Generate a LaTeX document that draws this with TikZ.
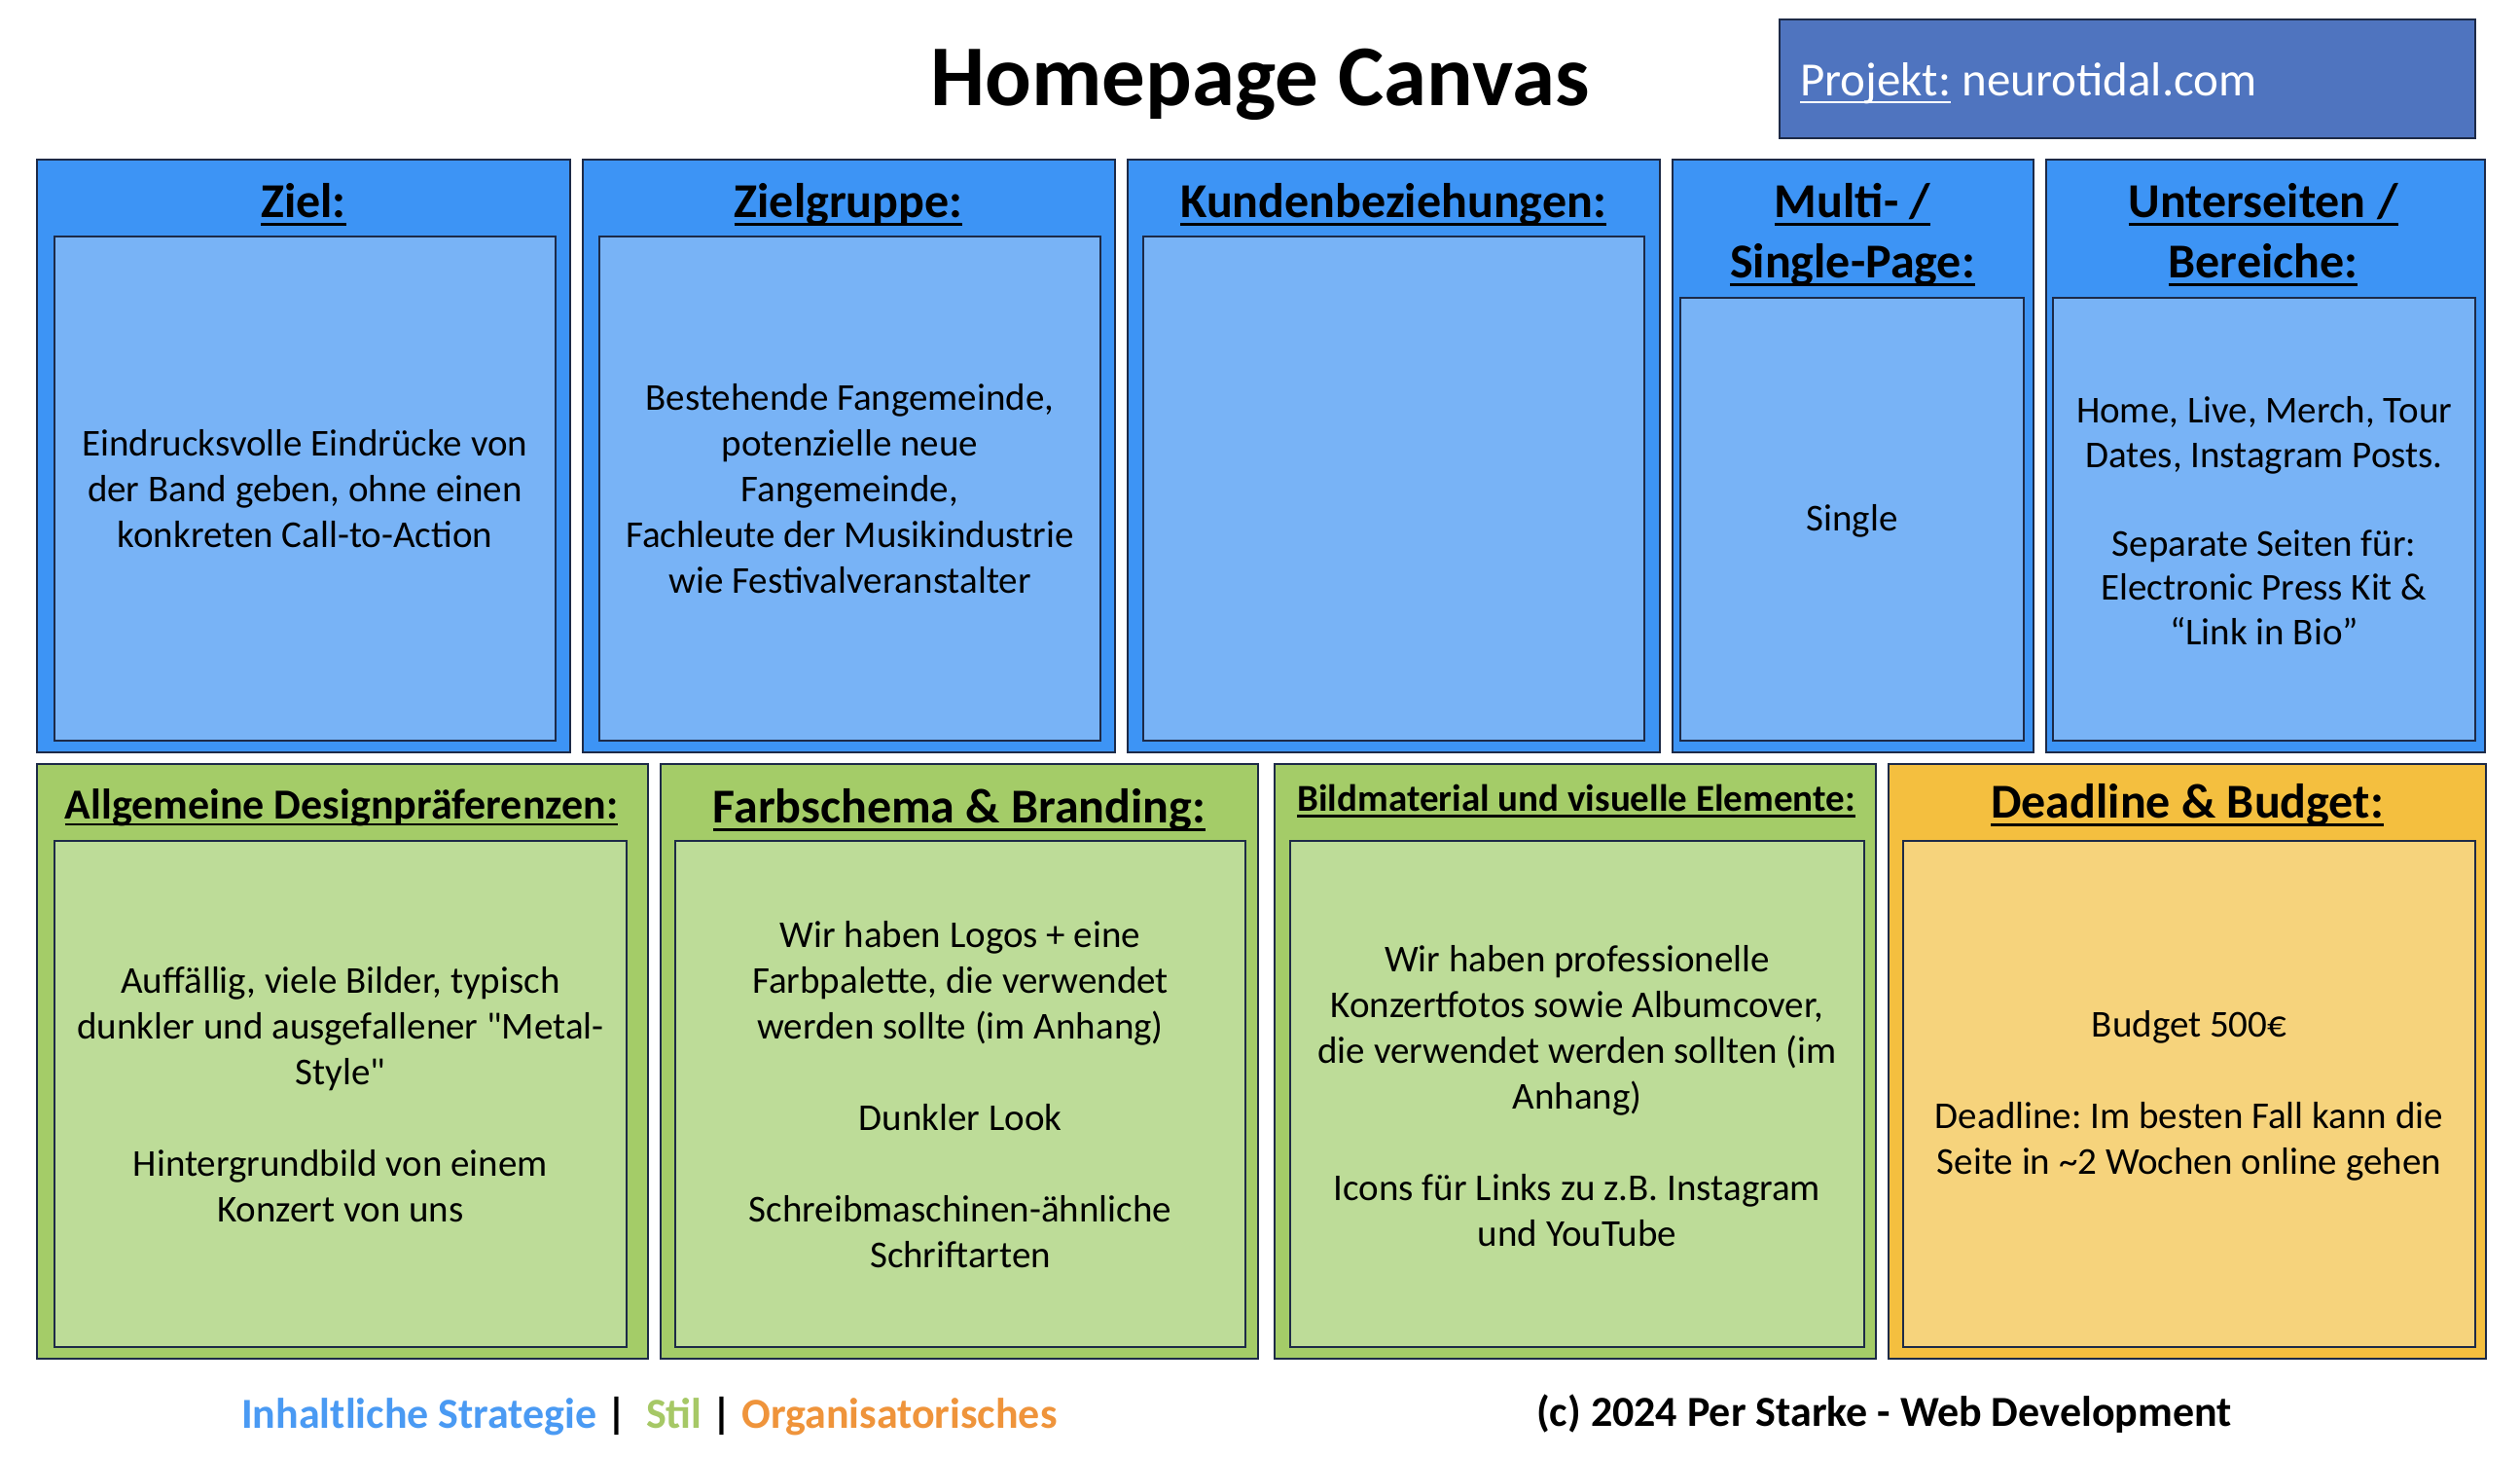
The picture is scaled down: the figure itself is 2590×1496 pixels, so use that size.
\documentclass[tikz,border=0pt]{standalone}
\usepackage{fontspec}
\setmainfont{Carlito}
\frenchspacing

\definecolor{topout}{HTML}{3D94F5}
\definecolor{topin}{HTML}{78B3F6}
\definecolor{grnout}{HTML}{A4CC68}
\definecolor{grnin}{HTML}{BDDC98}
\definecolor{orgout}{HTML}{F4BF3F}
\definecolor{orgin}{HTML}{F6D37C}
\definecolor{projfill}{HTML}{4F74BF}
\definecolor{edge}{HTML}{1D2A47}
\definecolor{ftblue}{HTML}{4A9AF3}
\definecolor{ftgreen}{HTML}{A6C866}
\definecolor{ftorange}{HTML}{EF943B}

% underline drawn as a rule below the text
\newcommand\ulined[2][0.055em]{\leavevmode\setbox0\hbox{#2}\rlap{\rule[-0.17em]{\wd0}{#1}}\box0\relax}

\begin{document}
\begin{tikzpicture}[x=1pt,y=-1pt,
  boxline/.style={draw=edge,line width=2.6pt},
  headfont/.style={font=\fontsize{50}{60}\selectfont\bfseries},
  bodyfont/.style={font=\fontsize{39}{47}\selectfont,align=center},
  head/.style={headfont,anchor=base,inner sep=0pt},
  body/.style={bodyfont,inner sep=0pt},
  foot/.style={font=\fontsize{44}{52}\selectfont\bfseries,anchor=base west,inner sep=0pt}]

\useasboundingbox[fill=white] (0,0) rectangle (2590,1496);

% ---------- title and project tag ----------
\node[font=\fontsize{89}{100}\selectfont\bfseries,anchor=base,inner sep=0pt] (title) at (1295,108) {Homepage Canvas};
\path[boxline,fill=projfill] (1829,20) rectangle (2544,142);
\node[font=\fontsize{49}{58}\selectfont,text=white,anchor=base west,inner sep=0pt] (projekt) at (1850,98)
  {\ulined[0.045em]{Projekt:} neurotidal.com};

% ---------- top row: strategy ----------
\path[boxline,fill=topout] (38,164) rectangle (586,773);
\path[boxline,fill=topin] (56,243) rectangle (571,761);
\node[head] (zielh) at (312,223) {\ulined{Ziel:}};
\node[body] (zielt) at (313.5,502) {Eindrucksvolle Eindrücke von\\der Band geben, ohne einen\\konkreten Call-to-Action};

\path[boxline,fill=topout] (599,164) rectangle (1146,773);
\path[boxline,fill=topin] (616,243) rectangle (1131,761);
\node[head] (grpH) at (872,223) {\ulined{Zielgruppe:}};
\node[body] (grpT) at (873.5,502) {Bestehende Fangemeinde,\\potenzielle neue\\Fangemeinde,\\Fachleute der Musikindustrie\\wie Festivalveranstalter};

\path[boxline,fill=topout] (1159,164) rectangle (1706,773);
\path[boxline,fill=topin] (1175,243) rectangle (1690,761);
\node[head] (kundH) at (1432,223) {\ulined{Kundenbeziehungen:}};

\path[boxline,fill=topout] (1719,164) rectangle (2090,773);
\path[boxline,fill=topin] (1727,306) rectangle (2080,761);
\node[head] (multiA) at (1904,223) {\ulined{Multi- /}};
\node[head] (multiB) at (1904,285) {\ulined{Single-Page:}};
\node[body] (multiT) at (1903.5,535) {Single};

\path[boxline,fill=topout] (2103,164) rectangle (2554,773);
\path[boxline,fill=topin] (2110,306) rectangle (2544,761);
\node[head] (unterA) at (2326,223) {\ulined{Unterseiten /}};
\node[head] (unterB) at (2326,285) {\ulined{Bereiche:}};
\node[body,font=\fontsize{39}{45.5}\selectfont] (unterT) at (2327,535) {Home, Live, Merch, Tour\\Dates, Instagram Posts.\\[45.5pt]Separate Seiten für:\\Electronic Press Kit \&\\“Link in Bio”};

% ---------- bottom row: style and organisation ----------
\path[boxline,fill=grnout] (38,785) rectangle (666,1396);
\path[boxline,fill=grnin] (56,864) rectangle (644,1384);
\node[head,font=\fontsize{44}{52}\selectfont\bfseries] (designH) at (351,841) {\ulined{Allgemeine Designpräferenzen:}};
\node[body] (designT) at (350,1125) {Auffällig, viele Bilder, typisch\\dunkler und ausgefallener \textquotedbl Metal-\\Style\textquotedbl\\[47pt]Hintergrundbild von einem\\Konzert von uns};

\path[boxline,fill=grnout] (679,785) rectangle (1293,1396);
\path[boxline,fill=grnin] (694,864) rectangle (1280,1384);
\node[head] (farbH) at (986,845) {\ulined{Farbschema \& Branding:}};
\node[body] (farbT) at (987,1125) {Wir haben Logos + eine\\Farbpalette, die verwendet\\werden sollte (im Anhang)\\[47pt]Dunkler Look\\[47pt]Schreibmaschinen-ähnliche\\Schriftarten};

\path[boxline,fill=grnout] (1310,785) rectangle (1928,1396);
\path[boxline,fill=grnin] (1326,864) rectangle (1916,1384);
\node[head,font=\fontsize{39}{47}\selectfont\bfseries] (bildH) at (1620,833) {\ulined{Bildmaterial und visuelle Elemente:}};
\node[body] (bildT) at (1621,1126) {Wir haben professionelle\\Konzertfotos sowie Albumcover,\\die verwendet werden sollten (im\\Anhang)\\[47pt]Icons für Links zu z.B. Instagram\\und YouTube};

\path[boxline,fill=orgout] (1941,785) rectangle (2555,1396);
\path[boxline,fill=orgin] (1956,864) rectangle (2544,1384);
\node[head] (deadH) at (2248,840) {\ulined{Deadline \& Budget:}};
\node[body] (deadT) at (2250,1126) {Budget 500€\\[47pt]Deadline: Im besten Fall kann die\\Seite in \textasciitilde 2 Wochen online gehen};

% ---------- footer ----------
\node[foot] (legend) at (248,1467) {\textcolor{ftblue}{Inhaltliche Strategie} |\ \ \textcolor{ftgreen}{Stil} | \textcolor{ftorange}{Organisatorisches}};
\node[foot] (credit) at (1579,1465) {(c) 2024 Per Starke - Web Development};

\end{tikzpicture}
\end{document}
